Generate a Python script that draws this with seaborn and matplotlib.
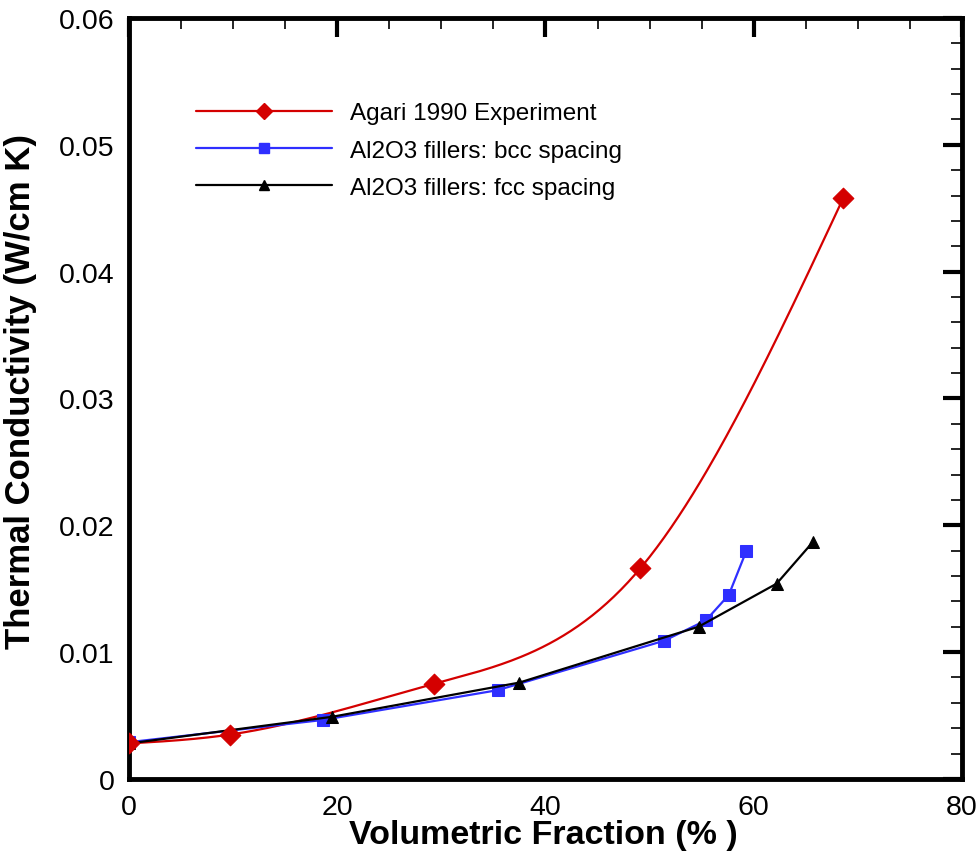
"""Thermal conductivity vs volumetric fraction of Al2O3 fillers."""

import numpy as np
import pandas as pd
import matplotlib
matplotlib.use("Agg")
import matplotlib.pyplot as plt
from matplotlib.lines import Line2D
from matplotlib.ticker import MultipleLocator, FuncFormatter
import seaborn as sns

# --- data ---
agari_x = [0.0, 9.7, 29.3, 49.1, 68.6]
agari_y = [0.0028, 0.0035, 0.0075, 0.0166, 0.0458]

bcc_x = [0.0, 18.6, 35.4, 51.4, 55.4, 57.6, 59.3]
bcc_y = [0.0029, 0.00465, 0.0070, 0.0109, 0.0125, 0.0145, 0.0180]

fcc_x = [0.0, 19.5, 37.5, 54.7, 62.2, 65.7]
fcc_y = [0.0028, 0.0049, 0.0076, 0.0120, 0.0154, 0.0187]

labels = ["Agari 1990 Experiment", "Al2O3 fillers: bcc spacing", "Al2O3 fillers: fcc spacing"]
RED, BLUE, BLACK = "#d40000", "#2f2fff", "black"


def natural_spline(x, y, xs):
    # natural cubic spline, only used to draw the smooth red line
    x = np.asarray(x, float)
    y = np.asarray(y, float)
    n = len(x)
    h = np.diff(x)
    A = np.zeros((n, n))
    b = np.zeros(n)
    A[0, 0] = A[-1, -1] = 1.0
    for i in range(1, n - 1):
        A[i, i - 1] = h[i - 1]
        A[i, i] = 2 * (h[i - 1] + h[i])
        A[i, i + 1] = h[i]
        b[i] = 6 * ((y[i + 1] - y[i]) / h[i] - (y[i] - y[i - 1]) / h[i - 1])
    M = np.linalg.solve(A, b)
    k = np.clip(np.searchsorted(x, xs) - 1, 0, n - 2)
    t0 = x[k + 1] - xs
    t1 = xs - x[k]
    hk = h[k]
    return (M[k] * t0**3 / (6 * hk) + M[k + 1] * t1**3 / (6 * hk)
            + (y[k] / hk - M[k] * hk / 6) * t0
            + (y[k + 1] / hk - M[k + 1] * hk / 6) * t1)


sns.set_theme(style="white")
plt.rcParams["font.family"] = ["Liberation Sans", "DejaVu Sans"]
plt.rcParams["text.color"] = "black"
plt.rcParams["axes.labelcolor"] = "black"

fig = plt.figure(figsize=(9.79, 8.54), dpi=100)
ax = fig.add_axes([0.1318, 0.0867, 0.8508, 0.8911])

xs = np.linspace(agari_x[0], agari_x[-1], 300)
smooth = pd.DataFrame({"x": xs, "y": natural_spline(agari_x, agari_y, xs)})
sns.lineplot(data=smooth, x="x", y="y", ax=ax, color=RED, lw=1.6, sort=False, zorder=3)
sns.scatterplot(x=agari_x, y=agari_y, ax=ax, marker="D", s=110, color=RED,
                edgecolor=RED, zorder=4)

sns.lineplot(x=bcc_x, y=bcc_y, ax=ax, color=BLUE, lw=1.6, marker="s", markersize=8.5,
             markeredgecolor=BLUE, sort=False, zorder=3)
sns.lineplot(x=fcc_x, y=fcc_y, ax=ax, color=BLACK, lw=1.6, marker="^", markersize=8,
             markeredgecolor=BLACK, sort=False, zorder=3)

ax.set_xlim(0, 80)
ax.set_ylim(0, 0.06)
ax.xaxis.set_major_locator(MultipleLocator(20))
ax.xaxis.set_minor_locator(MultipleLocator(5))
ax.yaxis.set_major_locator(MultipleLocator(0.01))
ax.yaxis.set_minor_locator(MultipleLocator(0.002))
ax.yaxis.set_major_formatter(FuncFormatter(lambda v, p: "%g" % round(v, 3)))
ax.tick_params(which="both", direction="in", top=True, right=True, labelsize=20.5,
               colors="black", pad=10.5)
ax.tick_params(which="major", length=13.5, width=3)
ax.tick_params(which="minor", length=8, width=1.2)
for sp in ax.spines.values():
    sp.set_linewidth(3.5)
    sp.set_color("black")

ax.set_xlabel("Volumetric Fraction (% )", fontsize=24.5, fontweight="bold")
ax.set_ylabel("Thermal Conductivity (W/cm K)", fontsize=25, fontweight="bold")
ax.xaxis.set_label_coords(0.4975, -0.052)
ax.yaxis.set_label_coords(-0.110, 0.511)

handles = [
    Line2D([], [], color=RED, lw=1.6, marker="D", markersize=8),
    Line2D([], [], color=BLUE, lw=1.6, marker="s", markersize=7),
    Line2D([], [], color=BLACK, lw=1.6, marker="^", markersize=7),
]
ax.legend(handles, labels, loc="upper left", bbox_to_anchor=(0.0804, 0.889),
          frameon=False, fontsize=17.5, handlelength=5.6, handletextpad=0.72,
          labelspacing=0.62, borderpad=0, borderaxespad=0)

fig.savefig("out.png", dpi=100)
